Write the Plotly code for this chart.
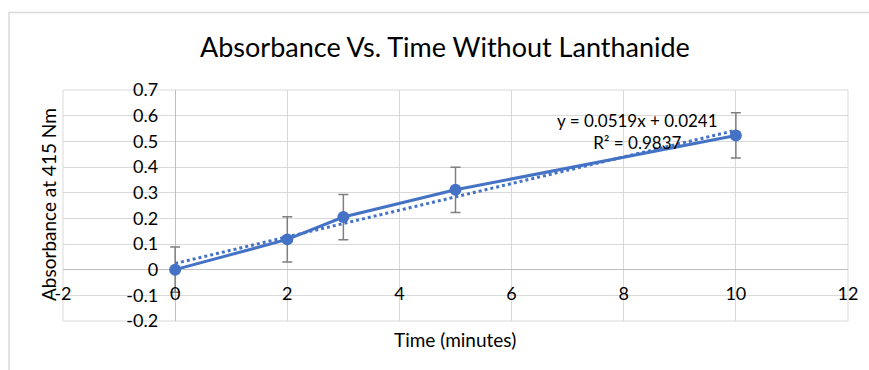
import plotly.graph_objects as go

# Measured absorbance over time
time_min = [0, 2, 3, 5, 10]
absorbance = [0.0, 0.118, 0.205, 0.311, 0.523]
abs_error = [0.088, 0.088, 0.088, 0.088, 0.088]

# Linear fit reported on the chart
fit_slope = 0.0519
fit_intercept = 0.0241
fit_r2 = 0.9837

x_ticks = [-2, 0, 2, 4, 6, 8, 10, 12]
y_ticks = [-0.2, -0.1, 0, 0.1, 0.2, 0.3, 0.4, 0.5, 0.6, 0.7]

W, H = 869, 370
ML, MR, MT, MB = 63, 21, 90, 49
PW, PH = W - ML - MR, H - MT - MB

BLUE = "#4472C4"
FONT = "Lato, Calibri, Carlito, sans-serif"
TXT = "#000000"


def px_x(px):
    return (px - ML) / PW


def px_y(py):
    return (H - MB - py) / PH


x_rng = [x_ticks[0], x_ticks[-1]]
y_rng = [y_ticks[0], y_ticks[-1]]

fit_x = [min(time_min), max(time_min)]
fit_y = [fit_slope * v + fit_intercept for v in fit_x]

fig = go.Figure()

fig.add_trace(go.Scatter(
    x=time_min, y=absorbance, mode="lines+markers",
    line=dict(color=BLUE, width=3),
    marker=dict(color=BLUE, size=12),
    error_y=dict(type="data", array=abs_error, visible=True,
                 color="#7f7f7f", thickness=1.5, width=5),
    showlegend=False, hoverinfo="x+y",
))

fig.add_trace(go.Scatter(
    x=fit_x, y=fit_y, mode="lines",
    line=dict(color=BLUE, width=3, dash="dot"),
    showlegend=False, hoverinfo="skip",
))

fig.update_layout(
    width=W, height=H,
    margin=dict(l=ML, r=MR, t=MT, b=MB, pad=0),
    paper_bgcolor="white", plot_bgcolor="white",
    font=dict(family=FONT, color=TXT, size=18),
    xaxis=dict(
        range=x_rng, tickvals=x_ticks, ticktext=[str(v) for v in x_ticks],
        showgrid=True, gridcolor="#d9d9d9", gridwidth=1,
        zeroline=True, zerolinecolor="#bfbfbf", zerolinewidth=1,
        showline=False, ticks="", anchor="free",
        position=(0 - y_rng[0]) / (y_rng[1] - y_rng[0]),
        ticklabelstandoff=11,
        tickfont=dict(size=18, family=FONT, color=TXT),
    ),
    yaxis=dict(
        range=y_rng, tickvals=y_ticks,
        ticktext=[f"{v:g}" for v in y_ticks],
        showgrid=True, gridcolor="#d9d9d9", gridwidth=1,
        zeroline=True, zerolinecolor="#bfbfbf", zerolinewidth=1,
        showline=False, ticks="", anchor="free",
        position=(0 - x_rng[0]) / (x_rng[1] - x_rng[0]),
        ticklabelstandoff=17,
        tickfont=dict(size=18, family=FONT, color=TXT),
    ),
    shapes=[
        # plot-area border
        dict(type="rect", xref="paper", yref="paper", x0=0, x1=1, y0=0, y1=1,
             line=dict(color="#d9d9d9", width=1), layer="below"),
        # chart-area frame
        dict(type="rect", xref="paper", yref="paper",
             x0=px_x(9), x1=px_x(W + 20), y0=px_y(H + 20), y1=px_y(12.5),
             line=dict(color="#d9d9d9", width=1.5), layer="below"),
    ],
    annotations=[
        dict(text="Absorbance Vs. Time Without Lanthanide", xref="paper", yref="paper",
             x=px_x(445), y=px_y(47), showarrow=False,
             font=dict(size=27, family=FONT, color="#000000"),
             xanchor="center", yanchor="middle"),
        dict(text="Time (minutes)", xref="paper", yref="paper",
             x=px_x(455), y=px_y(339), showarrow=False,
             font=dict(size=19, family=FONT, color=TXT),
             xanchor="center", yanchor="middle"),
        dict(text="Absorbance at 415 Nm", xref="paper", yref="paper",
             x=px_x(48), y=px_y(205), showarrow=False, textangle=-90,
             font=dict(size=19, family=FONT, color=TXT),
             xanchor="center", yanchor="middle"),
        dict(text=f"y = {fit_slope}x + {fit_intercept}<br>R² = {fit_r2}",
             xref="paper", yref="paper",
             x=px_x(637), y=px_y(131), showarrow=False, align="center",
             font=dict(size=17, family=FONT, color=TXT),
             xanchor="center", yanchor="middle"),
    ],
)

fig.write_html("out.html")
